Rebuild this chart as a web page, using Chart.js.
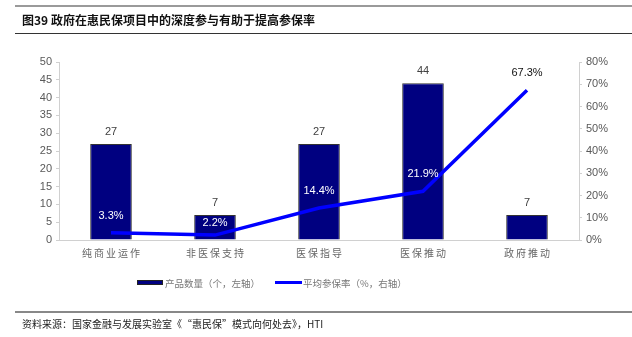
<!DOCTYPE html>
<html><head><meta charset="utf-8">
<script src="https://cdn.jsdelivr.net/npm/chart.js@4/dist/chart.umd.min.js"></script>
<style>html,body{margin:0;padding:0;background:#fff;}#wrap{position:relative;width:632px;height:337px;}</style>
</head><body><div id="wrap"><canvas id="c" width="632" height="337"></canvas></div>
<script>
const categories = ['纯商业运作','非医保支持','医保指导','医保推动','政府推动'];
const productCounts = [27, 7, 27, 44, 7];
const avgRates = [3.3, 2.2, 14.4, 21.9, 67.3];
const leftTicks = [0,5,10,15,20,25,30,35,40,45,50];
const rightTicks = [0,10,20,30,40,50,60,70,80];
const titleText = '图39 政府在惠民保项目中的深度参与有助于提高参保率';
const sourceText = '资料来源：国家金融与发展实验室《“惠民保”模式向何处去》，HTI';
const legendBar = '产品数量（个，左轴）';
const legendLine = '平均参保率（%，右轴）';

const CJK = '"Noto Sans CJK SC", sans-serif';
const LAT = '"Liberation Sans", Arial, sans-serif';

const decor = {
  id: 'decor',
  afterDraw(chart) {
    const ctx = chart.ctx;
    ctx.save();
    ctx.fillStyle = '#9a9a9a'; ctx.fillRect(15, 5, 617, 2);
    ctx.fillStyle = '#333'; ctx.fillRect(15, 33, 617, 1);
    ctx.fillStyle = '#888'; ctx.fillRect(15, 311, 617, 2);
    ctx.fillStyle = '#111'; ctx.textBaseline = 'middle'; ctx.textAlign = 'left';
    ctx.font = 'bold 12px ' + CJK;
    ctx.fillText(titleText, 22, 20);
    ctx.font = '10px ' + CJK; ctx.fillStyle = '#222';
    ctx.fillText(sourceText, 22, 324);
    ctx.fillStyle = '#000080'; ctx.fillRect(137, 280, 26, 5);
    ctx.strokeStyle = '#222'; ctx.lineWidth = 1; ctx.strokeRect(137.5, 280.5, 25, 4);
    ctx.font = '9.5px ' + CJK; ctx.fillStyle = '#777';
    ctx.fillText(legendBar, 165, 283);
    ctx.strokeStyle = '#0000ff'; ctx.lineWidth = 3;
    ctx.beginPath(); ctx.moveTo(275, 282.5); ctx.lineTo(302, 282.5); ctx.stroke();
    ctx.fillText(legendLine, 303, 283);
    const barMeta = chart.getDatasetMeta(1);
    ctx.textAlign = 'center'; ctx.font = '11px ' + LAT; ctx.fillStyle = '#404040';
    barMeta.data.forEach((el, i) => {
      ctx.fillText(String(productCounts[i]), el.x, el.y - 12);
    });
    const lineMeta = chart.getDatasetMeta(0);
    lineMeta.data.forEach((el, i) => {
      const barTop = barMeta.data[i].y;
      let y = el.y - 17;
      if (el.y > barTop) y = Math.max(y, barTop + 8);
      ctx.fillStyle = (el.y < barTop) ? '#111' : '#fff';
      ctx.fillText(avgRates[i].toFixed(1) + '%', el.x, y);
    });
    ctx.restore();
  }
};

new Chart(document.getElementById('c'), {
  data: {
    labels: categories,
    datasets: [
      { type: 'line', label: legendLine, data: avgRates, yAxisID: 'y1', borderColor: '#0000ff', borderWidth: 3.5,
        pointRadius: 0, tension: 0, order: 0 },
      { type: 'bar', label: legendBar, data: productCounts, yAxisID: 'y', backgroundColor: '#000080',
        borderColor: '#333', borderWidth: 1, barPercentage: 0.8, categoryPercentage: 0.5, order: 1 }
    ]
  },
  options: {
    responsive: false, animation: false, devicePixelRatio: 1,
    layout: { padding: { top: 62, bottom: 72, left: 0, right: 0 } },
    plugins: { legend: { display: false }, tooltip: { enabled: false } },
    scales: {
      x: {
        grid: { display: false, drawTicks: false }, border: { color: '#d0d0d0' },
        ticks: { color: '#666', font: { family: CJK, size: 10 }, padding: 7, maxRotation: 0,
          callback(v, i) { return Array.from(categories[i]).join('\u2009'); } },
        afterFit(s) { s.height = 25; }
      },
      y: {
        position: 'left', min: 0, max: 50,
        afterBuildTicks(s) { s.ticks = leftTicks.map(v => ({ value: v })); },
        grid: { display: true, drawOnChartArea: false, drawTicks: true, tickLength: 3, color: '#d0d0d0' },
        border: { color: '#d0d0d0' },
        ticks: { color: '#595959', font: { family: LAT, size: 11 }, padding: 4 },
        afterFit(s) { s.width = 59; }
      },
      y1: {
        position: 'right', min: 0, max: 80,
        afterBuildTicks(s) { s.ticks = rightTicks.map(v => ({ value: v })); },
        grid: { display: true, drawOnChartArea: false, drawTicks: true, tickLength: 3, color: '#d0d0d0' },
        border: { color: '#d0d0d0' },
        ticks: { color: '#595959', font: { family: LAT, size: 11 }, padding: 4, callback: v => v + '%' },
        afterFit(s) { s.width = 53; }
      }
    }
  },
  plugins: [decor]
});
</script></body></html>
